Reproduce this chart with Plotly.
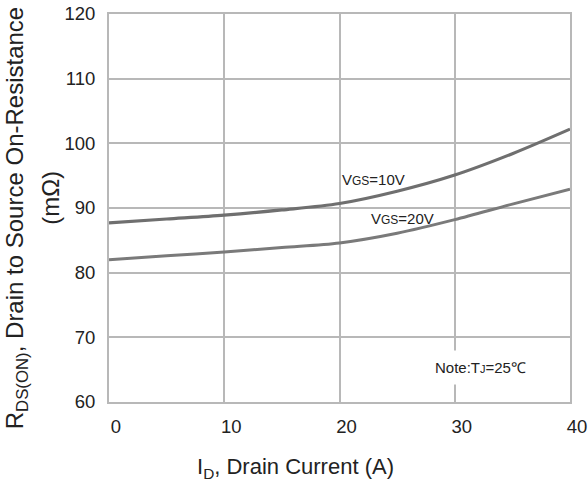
import plotly.graph_objects as go

# Data
current_a = [0, 5, 10, 15, 20, 25, 30, 35, 40]
rds_vgs10 = [87.7, 88.3, 88.9, 89.7, 90.7, 92.6, 95.1, 98.4, 102.2]
rds_vgs20 = [82.0, 82.6, 83.2, 83.9, 84.6, 86.1, 88.2, 90.6, 92.9]
x_ticks = [0, 10, 20, 30, 40]
y_ticks = [60, 70, 80, 90, 100, 110, 120]

FONT = "Liberation Sans, Arial, sans-serif"
LINE = "#6f6f6f"
GRID = "#b8b8b8"

fig = go.Figure()
fig.add_trace(go.Scatter(x=current_a, y=rds_vgs10, mode="lines",
                         line=dict(color=LINE, width=3.2, shape="spline", smoothing=0.9),
                         name="VGS=10V", showlegend=False))
fig.add_trace(go.Scatter(x=current_a, y=rds_vgs20, mode="lines",
                         line=dict(color="#7a7a7a", width=3.0, shape="spline", smoothing=0.9),
                         name="VGS=20V", showlegend=False))

fig.update_layout(
    width=588, height=484,
    margin=dict(l=109, r=18, t=14, b=82, autoexpand=False),
    paper_bgcolor="white", plot_bgcolor="white",
    font=dict(family=FONT, color="#222222"),
    showlegend=False,
)
fig.update_xaxes(range=[0, 40], tickvals=x_ticks, ticktext=[str(v) for v in x_ticks],
                 showgrid=True, gridcolor=GRID, gridwidth=2,
                 showline=True, linecolor=GRID, linewidth=2, mirror=True,
                 zeroline=False, ticks="", tickfont=dict(size=18.5, family=FONT, color="#222"),
                 ticklabelshift=7, ticklabelstandoff=7, automargin=False)
fig.update_yaxes(range=[60, 120], tickvals=y_ticks, ticktext=[str(v) for v in y_ticks],
                 showgrid=True, gridcolor=GRID, gridwidth=2,
                 showline=True, linecolor=GRID, linewidth=2, mirror=True,
                 zeroline=False, ticks="", tickfont=dict(size=18.5, family=FONT, color="#222"),
                 ticklabelstandoff=8, automargin=False)

# Axis titles
fig.add_annotation(xref="paper", yref="paper", x=-0.2, y=0.4755, xanchor="center", yanchor="middle",
                   text="R<sub>DS(ON)</sub>, Drain to Source On-Resistance", textangle=-90,
                   showarrow=False, font=dict(size=24, family=FONT, color="#222"))
fig.add_annotation(xref="paper", yref="paper", x=-0.126, y=0.526, xanchor="center", yanchor="middle",
                   text="(mΩ)", textangle=-90,
                   showarrow=False, font=dict(size=24, family=FONT, color="#222"))
fig.add_annotation(xref="paper", yref="paper", x=0.4056, y=-0.17, xanchor="center", yanchor="middle",
                   text="I<sub>D</sub>, Drain Current (A)",
                   showarrow=False, font=dict(size=22, family=FONT, color="#222"))

# Curve labels
fig.add_annotation(x=20, y=94.4, xanchor="left", yanchor="middle", showarrow=False,
                   text="V<span style='font-size:12px'>GS</span>=10V",
                   font=dict(size=15, family=FONT, color="#222"))
fig.add_annotation(x=22.6, y=88.3, xanchor="left", yanchor="middle", showarrow=False,
                   text="V<span style='font-size:12px'>GS</span>=20V",
                   font=dict(size=15, family=FONT, color="#222"))
fig.add_annotation(x=32.2, y=65.4, xanchor="center", yanchor="middle", showarrow=False,
                   text="Note:T<span style='font-size:11px'>J</span>=25℃",
                   bgcolor="white", borderpad=8,
                   font=dict(size=15, family=FONT, color="#222"))

# remove the default 8px page margin so the figure sits at the window's corner
fig.write_html("out.html", config={"displayModeBar": False},
               post_script="document.body.style.margin='0';")
